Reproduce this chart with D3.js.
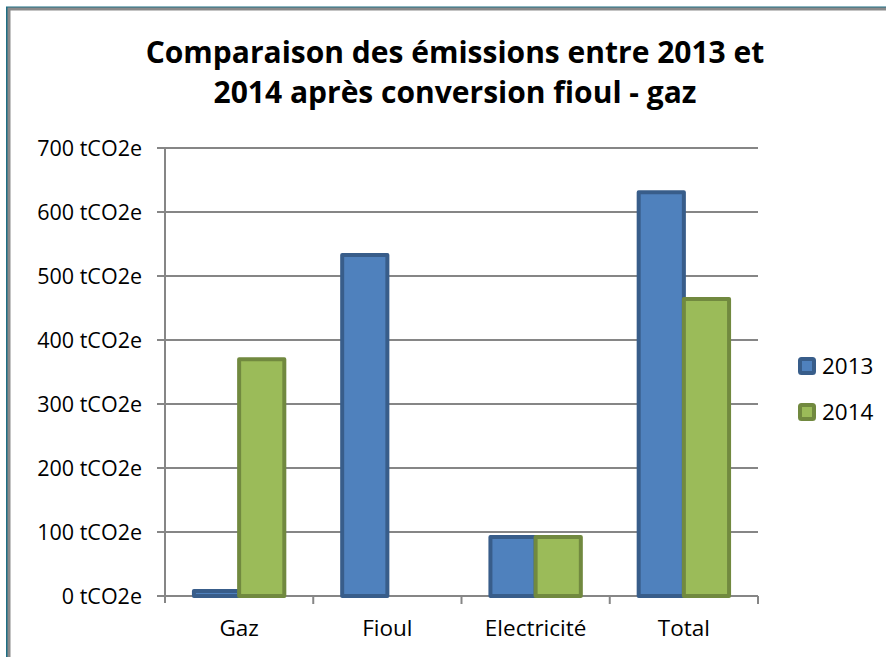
<!DOCTYPE html>
<html>
<head>
<meta charset="utf-8">
<script src="https://cdn.jsdelivr.net/npm/d3@7"></script>
<style>
  body { margin: 0; background: #fff; }
  text { font-family: "Open Sans", "Liberation Sans", sans-serif; fill: #000; }
</style>
</head>
<body>
<svg id="chart" width="886" height="657"></svg>
<script>
var categories = ["Gaz", "Fioul", "Electricité", "Total"],
    series = ["2013", "2014"],
    values2013 = [8, 533, 92, 631],
    values2014 = [370, 0, 92, 464],
    yTicks = [0, 100, 200, 300, 400, 500, 600, 700],
    titleLines = ["Comparaison des émissions entre 2013 et", "2014 après conversion fioul - gaz"];

var fills = { "2013": "#4f81bd", "2014": "#9bbb59" },
    strokes = { "2013": "#385d8a", "2014": "#71893f" };

var svg = d3.select('#chart'),
    margin = { left: 165, right: 128, top: 148, bottom: 61 },
    width = +svg.attr("width"),
    height = +svg.attr("height");

// frame (only top and left edges are visible in the crop)
svg.append("path").attr("d", "M7,657 V7.5 H886").attr("fill", "none")
    .attr("stroke", "#1f6e84").attr("stroke-width", 2);
svg.append("path").attr("d", "M9,657 V9 H886").attr("fill", "none")
    .attr("stroke", "#8a8a8a").attr("stroke-width", 3);

var x = d3.scaleBand().domain(categories)
    .range([margin.left, width - margin.right]);

var x1 = d3.scaleBand().domain(series)
    .range([0, x.bandwidth()]).paddingInner(0).paddingOuter(0.64);

var y = d3.scaleLinear().domain([0, 700])
    .range([height - margin.bottom, margin.top]);

// gridlines
svg.append("g").selectAll("line").data(yTicks).enter().append("line")
    .attr("x1", margin.left - 8).attr("x2", width - margin.right)
    .attr("y1", function(d) { return y(d); }).attr("y2", function(d) { return y(d); })
    .attr("stroke", "#868686").attr("stroke-width", 2);

// y axis line
svg.append("line")
    .attr("x1", margin.left).attr("x2", margin.left)
    .attr("y1", y(700)).attr("y2", y(0) + 7)
    .attr("stroke", "#868686").attr("stroke-width", 2);

// category ticks
var bounds = categories.map(function(c) { return x(c); }).concat([width - margin.right]);
svg.append("g").selectAll("line").data(bounds.slice(1)).enter().append("line")
    .attr("x1", function(d) { return d; }).attr("x2", function(d) { return d; })
    .attr("y1", y(0)).attr("y2", y(0) + 8)
    .attr("stroke", "#868686").attr("stroke-width", 2);

// y labels
svg.append("g").selectAll("text").data(yTicks).enter().append("text")
    .attr("x", margin.left - 23).attr("y", function(d) { return y(d); })
    .attr("dy", "0.36em").attr("text-anchor", "end")
    .style("font-size", "21.5px")
    .text(function(d) { return d + " tCO2e"; });

// category labels
svg.append("g").selectAll("text").data(categories).enter().append("text")
    .attr("x", function(d) { return x(d) + x.bandwidth() / 2; })
    .attr("y", y(0) + 40)
    .attr("text-anchor", "middle")
    .style("font-size", "22.5px")
    .text(function(d) { return d; });

// bars
var rows = categories.map(function(c, i) {
    return { cat: c, vals: [ { s: "2013", v: values2013[i] }, { s: "2014", v: values2014[i] } ] };
});

var groups = svg.append("g").selectAll("g").data(rows).enter().append("g")
    .attr("transform", function(d) { return "translate(" + x(d.cat) + ",0)"; });

groups.selectAll("rect").data(function(d) { return d.vals.filter(function(e) { return e.v > 0; }); })
    .enter().append("rect")
    .attr("x", function(d) { return x1(d.s); })
    .attr("width", x1.bandwidth())
    .attr("y", function(d) { return y(d.v); })
    .attr("height", function(d) { return y(0) - y(d.v); })
    .attr("fill", function(d) { return fills[d.s]; })
    .attr("stroke", function(d) { return strokes[d.s]; })
    .attr("stroke-width", 4)
    .attr("stroke-linejoin", "round");

// legend
var legend = svg.append("g").selectAll("g").data(series).enter().append("g")
    .attr("transform", function(d, i) { return "translate(800," + (359 + i * 46) + ")"; });

legend.append("rect")
    .attr("width", 14).attr("height", 14)
    .attr("fill", function(d) { return fills[d]; })
    .attr("stroke", function(d) { return strokes[d]; })
    .attr("stroke-width", 4).attr("rx", 1.5);

legend.append("text")
    .attr("x", 22).attr("y", 7).attr("dy", "0.36em")
    .style("font-size", "22.5px")
    .text(function(d) { return d; });

// title
svg.append("g").selectAll("text").data(titleLines).enter().append("text")
    .attr("x", 455).attr("y", function(d, i) { return 63 + i * 40; })
    .attr("text-anchor", "middle")
    .style("font-size", "30px").style("font-weight", "bold")
    .text(function(d) { return d; });
</script>
</body>
</html>
